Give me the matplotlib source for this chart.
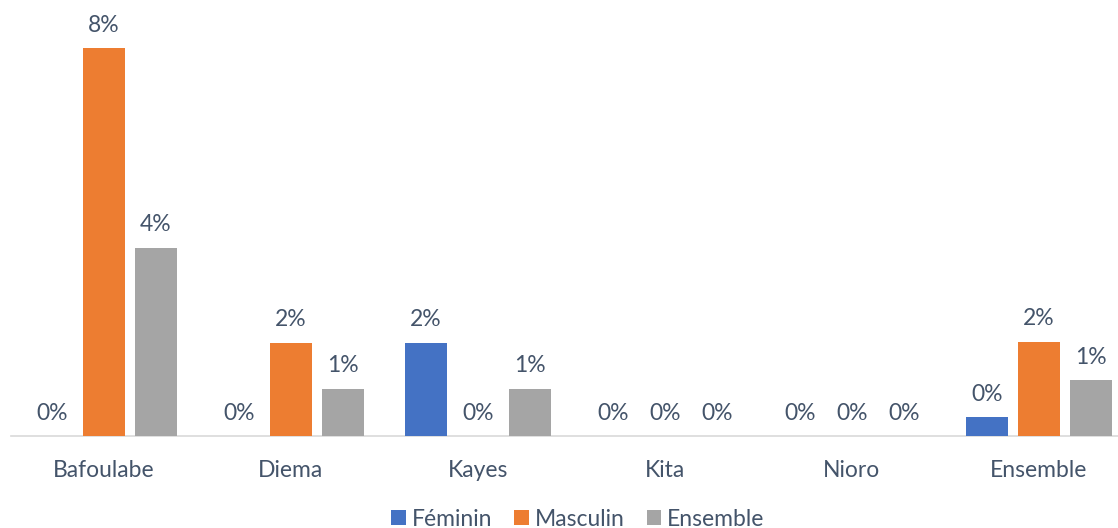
import matplotlib.pyplot as plt
import numpy as np

plt.rcParams['font.family'] = ['Lato', 'DejaVu Sans']

categories = ['Bafoulabe', 'Diema', 'Kayes', 'Kita', 'Nioro', 'Ensemble']
series_names = ['Féminin', 'Masculin', 'Ensemble']
feminin = [0.0, 0.0, 1.92, 0.0, 0.0, 0.39]
masculin = [8.0, 1.92, 0.0, 0.0, 0.0, 1.94]
ensemble = [3.88, 0.97, 0.97, 0.0, 0.0, 1.15]
colors = ['#4472c4', '#ed7d31', '#a5a5a5']
text_color = '#44546a'

W, H = 1118, 528
fig = plt.figure(figsize=(W / 100, H / 100), dpi=100)
ax = fig.add_axes([10.5 / W, (H - 436) / H, (W - 10.5) / W, 426 / H])

x = np.arange(len(categories))
width = 0.225
step = 0.278
for i, (vals, name, col) in enumerate(zip([feminin, masculin, ensemble], series_names, colors)):
    pos = x + (i - 1) * step
    ax.bar(pos, vals, width, color=col, label=name, zorder=3)
    for p, v in zip(pos, vals):
        ax.annotate(f"{round(v)}%", (p, v), xytext=(0, 9), textcoords='offset points',
                    ha='center', va='bottom', fontsize=16.5, color=text_color)

ax.set_xlim(-0.5, (W - 10.5) / 187 - 0.5)
ax.set_ylim(0, 426 / 48.5)
ax.set_yticks([])
ax.set_xticks(x)
ax.set_xticklabels(categories, fontsize=16.5, color=text_color)
ax.tick_params(axis='x', length=0, pad=17)
for s in ['top', 'right', 'left']:
    ax.spines[s].set_visible(False)
ax.spines['bottom'].set_color('#d9d9d9')
ax.spines['bottom'].set_linewidth(1.2)

fig.legend(loc='center', bbox_to_anchor=(578 / W, 1 - 519 / H), ncol=3, frameon=False,
           fontsize=16.5, labelcolor=text_color, handlelength=0.65, handleheight=0.65,
           handletextpad=0.25, columnspacing=0.95)

fig.savefig('out.png', dpi=100)
